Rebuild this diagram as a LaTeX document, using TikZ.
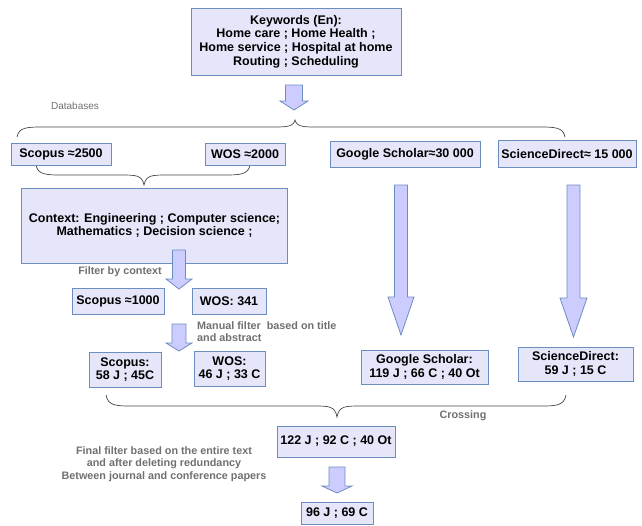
\documentclass[tikz,border=0pt]{standalone}
\usepackage{fontspec}
\setmainfont{Liberation Sans}
\definecolor{boxfill}{RGB}{230,230,250}
\definecolor{boxline}{RGB}{108,142,191}
\definecolor{arrowfill}{RGB}{204,204,255}
\definecolor{notegrey}{RGB}{112,112,112}
\definecolor{bracegrey}{RGB}{70,70,70}

% curly brace: left x, right x, end y, middle y, tip x, tip y
\newcommand{\hbrace}[6]{%
  \draw[bracepath] (#1,#3) .. controls ({#1+2},#4) and ({#1+10},#4) .. ({#1+28},#4)
    -- ({#5-24},#4) .. controls ({#5-8},#4) and ({#5-2},#4) .. (#5,#6)
    .. controls ({#5+2},#4) and ({#5+8},#4) .. ({#5+24},#4)
    -- ({#2-28},#4) .. controls ({#2-10},#4) and ({#2-2},#4) .. (#2,#3);}
% block arrow: x, top, head start, tip, half shaft, half head
\newcommand{\blockarrow}[6]{%
  \draw[barrow] ({#1-#5},#2) -- ({#1+#5},#2) -- ({#1+#5},#3) -- ({#1+#6},#3)
    -- (#1,#4) -- ({#1-#6},#3) -- ({#1-#5},#3) -- cycle;}

\begin{document}
\begin{tikzpicture}[x=1pt,y=-1pt,
  box/.style={draw=boxline,fill=boxfill,line width=0.9pt,inner sep=0pt,align=center,
    font=\bfseries\fontsize{12.5}{13.7}\selectfont},
  note/.style={text=notegrey,inner sep=0pt,font=\bfseries\fontsize{10.8}{12.5}\selectfont},
  bracepath/.style={draw=bracegrey,line width=0.7pt},
  barrow/.style={draw=boxline,fill=arrowfill,line width=0.8pt,line join=miter}]
\useasboundingbox (0,0) rectangle (642,525);

% braces
\hbrace{17}{565}{137}{127}{295}{120}
\hbrace{36}{250}{165}{175}{144}{185}
\hbrace{106}{566}{395}{406}{337}{417}

% boxes
\node[box,minimum width=210,minimum height=67] (kw) at (296,41.5)
  {Keywords (En):\\Home care ; Home Health ;\\Home service ; Hospital at home\\Routing ; Scheduling};
\node[box,minimum width=100,minimum height=22] (scopus1) at (61,154) {Scopus ≈2500};
\node[box,minimum width=80,minimum height=22] (wos1) at (245,154) {WOS ≈2000};
\node[box,minimum width=150,minimum height=26] (gs1) at (405,154) {Google Scholar≈30 000};
\node[box,minimum width=138,minimum height=27] (sd1) at (567,154) {ScienceDirect≈ 15 000};
\node[box,minimum width=266,minimum height=75] (ctx) at (154.5,225.5)
  {Context: Engineering ; Computer science;\\Mathematics ; Decision science ;};
\node[box,minimum width=92,minimum height=26] (scopus2) at (118,301) {Scopus ≈1000};
\node[box,minimum width=74,minimum height=26] (wos2) at (229,301) {WOS: 341};
\node[box,minimum width=72,minimum height=35] (scopus3) at (125,369.5) {Scopus:\\58 J ; 45C};
\node[box,minimum width=71,minimum height=35] (wos3) at (229.5,368.5) {WOS:\\46 J ; 33 C};
\node[box,minimum width=127,minimum height=34] (gs3) at (424.5,367) {Google Scholar:\\119 J ; 66 C ; 40 Ot};
\node[box,minimum width=115,minimum height=34] (sd3) at (575.5,364) {ScienceDirect:\\59 J ; 15 C};
\node[box,minimum width=118,minimum height=31] (cross) at (336,441.5) {122 J ; 92 C ; 40 Ot};
\node[box,minimum width=72,minimum height=22] (final) at (337,513) {96 J ; 69 C};

% block arrows
\blockarrow{294}{85}{101}{110}{8.5}{14}
\blockarrow{179}{250}{279}{289}{6.5}{13}
\blockarrow{179}{324}{343}{351}{7}{13}
\blockarrow{401}{185}{297}{335}{6.5}{13}
\blockarrow{573.5}{185}{298}{337}{6.5}{13.5}
\blockarrow{337}{467}{486}{493}{8}{15}

% notes
\node[note,font=\fontsize{10}{12}\selectfont] (databases) at (75,106) {Databases};
\node[note] (bycontext) at (120,272) {Filter by context};
\node[note,align=left,anchor=north west] (manual) at (197,321)
  {Manual filter \ based on title\\and abstract};
\node[note] (crossing) at (463,416) {Crossing};
\node[note,align=center] (finalnote) at (164,464)
  {Final filter based on the entire text\\and after deleting redundancy\\Between journal and conference papers};
\end{tikzpicture}
\end{document}
